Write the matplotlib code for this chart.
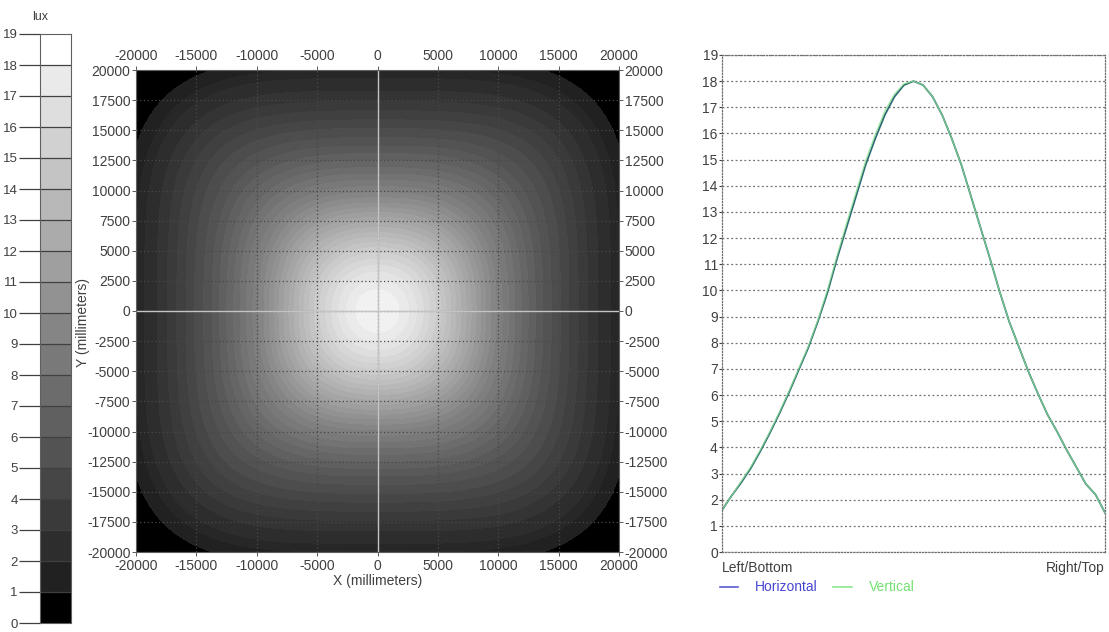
import numpy as np
import matplotlib
matplotlib.use("Agg")
import matplotlib.pyplot as plt
from matplotlib.lines import Line2D

plt.rcParams['font.family'] = ['Liberation Sans', 'DejaVu Sans']
plt.rcParams['font.size'] = 10
plt.rcParams['axes.unicode_minus'] = False

# profile positions across the detector (mm)
positions = np.arange(-20000, 20001, 1000)

# illuminance profiles (lux)
horizontal = [1.6, 2.15, 2.65, 3.2, 3.85, 4.55, 5.3, 6.1, 6.95, 7.8, 8.8,
              9.9, 11.2, 12.4, 13.6, 14.8, 15.8, 16.7, 17.4, 17.85, 18.0,
              17.85, 17.4, 16.7, 15.8, 14.8, 13.6, 12.4, 11.2, 9.95, 8.8,
              7.85, 6.9, 6.05, 5.25, 4.6, 3.9, 3.25, 2.6, 2.2, 1.5]
vertical = [1.6, 2.15, 2.7, 3.25, 3.9, 4.6, 5.35, 6.15, 7.0, 7.85, 8.85,
            10.0, 11.3, 12.55, 13.75, 14.95, 15.95, 16.85, 17.5, 17.9, 18.0,
            17.85, 17.4, 16.7, 15.8, 14.8, 13.6, 12.4, 11.2, 9.95, 8.8,
            7.85, 6.9, 6.05, 5.25, 4.6, 3.9, 3.25, 2.6, 2.2, 1.5]

# estimated values beyond the edge midpoints, towards the black corners
corner_dist = [21000, 22000, 24000, 26000, 28300]
corner_lux = [1.0, 0.7, 0.35, 0.15, 0.05]

lux_ticks = list(range(0, 20))
xy_ticks = list(range(-20000, 20001, 5000))
y_ticks = list(range(-20000, 20001, 2500))

W, H = 1109, 632
fig = plt.figure(figsize=(W / 100, H / 100), dpi=100)
txt = '#404040'


def grey(lv):
    # grey level used by the lux scale: black below 1, white from 18
    if lv < 1:
        return '0.0'
    if lv >= 18:
        return '1.0'
    return str(min((20 + 12.6 * lv) / 255, 1.0))


# ---------------- false colour (grey) map ----------------
d_prof = np.concatenate([positions[20:], corner_dist])
e_prof = np.concatenate([np.array(horizontal)[20:], corner_lux])

xs = np.linspace(-20000, 20000, 401)
X, Y = np.meshgrid(xs, xs)
r = np.hypot(X, Y)
p = 2 + 2.0 * np.clip(r / 20000, 0, 1) ** 1.5
d = (np.abs(X) ** p + np.abs(Y) ** p) ** (1 / p)
E = np.interp(d, d_prof, e_prof)

levels = np.arange(0, 19.01, 0.5)
band_cols = [grey(lv) for lv in levels[:-1]]

ax = fig.add_axes([136 / W, (H - 552) / H, 483 / W, 482 / H])
ax.contourf(X, Y, E, levels=levels, colors=band_cols, antialiased=False)
ax.set_xlim(-20000, 20000)
ax.set_ylim(-20000, 20000)
ax.set_xticks(xy_ticks)
ax.set_yticks(y_ticks)
ax.tick_params(top=True, labeltop=True, right=True, labelright=True,
               length=3, width=0.6, pad=2, colors=txt, labelsize=10)
ax.tick_params(axis='y', pad=1)
ax.grid(True, color='#484848', linestyle=(0, (1, 2)), linewidth=0.9)
ax.axhline(0, color='#c4c4c4', linewidth=1)
ax.axvline(0, color='#c4c4c4', linewidth=1)
for s in ax.spines.values():
    s.set_color('#606060')
    s.set_linewidth(0.8)
ax.set_xlabel('X (millimeters)', color=txt, labelpad=1)
fig.text(83 / W, 1 - 323 / H, 'Y (millimeters)', rotation=90,
         ha='center', va='center', color=txt)

# ---------------- lux scale ----------------
cb = fig.add_axes([40 / W, (H - 623) / H, 31 / W, 589 / H])
for k in lux_ticks[:-1]:
    cb.axhspan(k, k + 1, color=grey(k), linewidth=0)
for k in lux_ticks[1:-1]:
    cb.axhline(k, color='#404040', linewidth=0.9)
cb.set_xlim(0, 1)
cb.set_ylim(0, 19)
cb.set_xticks([])
cb.set_yticks(lux_ticks)
cb.tick_params(axis='y', length=15, width=0.9, pad=1, colors=txt,
               labelsize=9.5)
for s in cb.spines.values():
    s.set_color('#606060')
fig.text(40 / W, 1 - 17 / H, 'lux', ha='center', va='center',
         color=txt, fontsize=9)

# ---------------- cross sections ----------------
ax2 = fig.add_axes([722 / W, (H - 552) / H, 383 / W, 497 / H])
ax2.plot(positions, horizontal, color='#2e6a74', linewidth=1.3)
ax2.plot(positions, vertical, color='#86e08e', linewidth=0.9, alpha=0.8)
ax2.set_xlim(-20000, 20000)
ax2.set_ylim(0, 19)
ax2.set_xticks([])
ax2.set_yticks(lux_ticks)
ax2.yaxis.grid(True, color='#707070', linestyle=(0, (1.5, 2)),
               linewidth=0.9)
ax2.tick_params(axis='y', length=2, pad=1, colors=txt, labelsize=10)
for s in ax2.spines.values():
    s.set_color('#707070')
    s.set_linestyle((0, (1, 1.5)))
    s.set_linewidth(0.9)
ax2.text(0, -0.018, 'Left/Bottom', transform=ax2.transAxes,
         ha='left', va='top', color=txt)
ax2.text(1, -0.018, 'Right/Top', transform=ax2.transAxes,
         ha='right', va='top', color=txt)

ly = 1 - 587 / H
fig.add_artist(Line2D([720 / W, 738 / W], [ly, ly], color='#5a5ad0',
                      linewidth=1.2))
fig.text(755 / W, ly, 'Horizontal', color='#4646d2', va='center')
fig.add_artist(Line2D([833 / W, 852 / W], [ly, ly], color='#8ee88e',
                      linewidth=1.2))
fig.text(869 / W, ly, 'Vertical', color='#72e272', va='center')

fig.savefig('out.png', dpi=100, facecolor='white')
